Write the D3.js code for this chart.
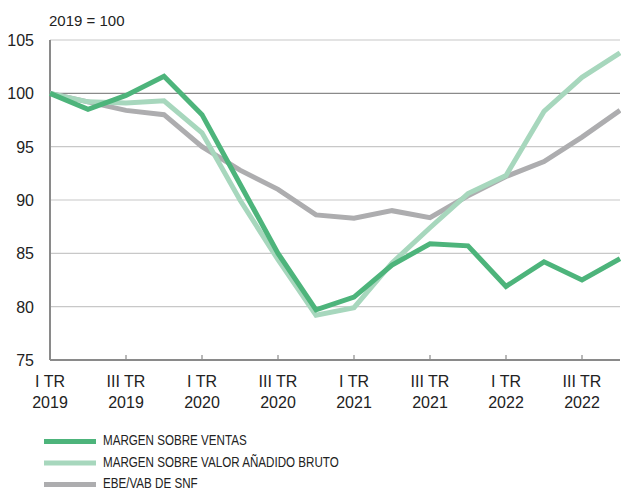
<!DOCTYPE html>
<html>
<head>
<meta charset="utf-8">
<script src="https://cdn.jsdelivr.net/npm/d3@7"></script>
<style>
  body { margin: 0; background: #fff; }
  svg { display: block; font-family: "Liberation Sans", Arial, sans-serif; }
</style>
</head>
<body>
<div id="chart"></div>
<script>
// quarters 2019 Q1 .. 2022 Q4
const quarters = d3.range(16);
const tickLabels = [
  ['I TR', '2019'], ['III TR', '2019'], ['I TR', '2020'], ['III TR', '2020'],
  ['I TR', '2021'], ['III TR', '2021'], ['I TR', '2022'], ['III TR', '2022']
];
const yTicks = [75, 80, 85, 90, 95, 100, 105];

const ventas = [100, 98.5, 99.8, 101.6, 98.0, 91.5, 85.0, 79.7, 80.9, 83.9, 85.9, 85.7, 81.9, 84.2, 82.5, 84.5];
const vab = [100, 99.2, 99.1, 99.3, 96.3, 90.0, 84.4, 79.2, 79.9, 84.1, 87.4, 90.6, 92.3, 98.3, 101.5, 103.8];
const ebe = [100, 99.2, 98.4, 98.0, 95.0, 92.8, 91.0, 88.6, 88.3, 89.0, 88.35, 90.4, 92.2, 93.6, 95.9, 98.4];

const series = [
  { name: 'MARGEN SOBRE VENTAS', values: ventas, color: '#4db47b' },
  { name: 'MARGEN SOBRE VALOR AÑADIDO BRUTO', values: vab, color: '#a7d7bd' },
  { name: 'EBE/VAB DE SNF', values: ebe, color: '#adadaf' }
];

const W = 621, H = 491;
const margin = { top: 40, right: 1, bottom: 131, left: 50 };

const svg = d3.select('#chart').append('svg')
  .attr('width', W).attr('height', H);

const x = d3.scaleLinear().domain([0, 15]).range([margin.left, W - margin.right]);
const y = d3.scaleLinear().domain([75, 105]).range([H - margin.bottom, margin.top]);

// title
svg.append('text')
  .attr('x', 49).attr('y', 26)
  .attr('font-size', 15).attr('fill', '#222')
  .text('2019 = 100');

// grid
svg.append('g').selectAll('line')
  .data(yTicks.filter(d => d > 75))
  .enter().append('line')
  .attr('x1', x(0)).attr('x2', x(15))
  .attr('y1', d => y(d)).attr('y2', d => y(d))
  .attr('stroke', d => d === 100 ? '#8a8a8a' : '#c8c8c8')
  .attr('stroke-width', 1.2);

// y labels
svg.append('g').selectAll('text')
  .data(yTicks)
  .enter().append('text')
  .attr('x', 34).attr('y', d => y(d) + 6)
  .attr('text-anchor', 'end')
  .attr('font-size', 16).attr('fill', '#222')
  .text(d => d);

// x ticks (every second quarter, skip first)
svg.append('g').selectAll('line')
  .data(d3.range(2, 16, 2))
  .enter().append('line')
  .attr('x1', d => x(d)).attr('x2', d => x(d))
  .attr('y1', y(75)).attr('y2', y(75) - 5)
  .attr('stroke', '#8a8a8a').attr('stroke-width', 1.2);

// axes
svg.append('line')
  .attr('x1', x(0)).attr('x2', x(15))
  .attr('y1', y(75)).attr('y2', y(75))
  .attr('stroke', '#8a8a8a').attr('stroke-width', 2);
svg.append('line')
  .attr('x1', x(0)).attr('x2', x(0))
  .attr('y1', y(105)).attr('y2', y(75))
  .attr('stroke', '#8a8a8a').attr('stroke-width', 2);

// x labels
const xl = svg.append('g').selectAll('text')
  .data(tickLabels)
  .enter().append('text')
  .attr('text-anchor', 'middle')
  .attr('font-size', 16).attr('fill', '#222');
xl.append('tspan').attr('x', (d, i) => x(i * 2)).attr('y', 387).text(d => d[0]);
xl.append('tspan').attr('x', (d, i) => x(i * 2)).attr('y', 408).text(d => d[1]);

// lines
const line = d3.line().x((d, i) => x(quarters[i])).y(d => y(d));
svg.append('g').selectAll('path')
  .data(series.slice().reverse())
  .enter().append('path')
  .attr('d', d => line(d.values))
  .attr('fill', 'none')
  .attr('stroke', d => d.color)
  .attr('stroke-width', 5)
  .attr('stroke-linejoin', 'miter');

// legend
const lg = svg.append('g').selectAll('g')
  .data(series)
  .enter().append('g')
  .attr('transform', (d, i) => `translate(44,${441.5 + i * 21.5})`);
lg.append('rect')
  .attr('x', 0).attr('y', -2.5).attr('width', 52).attr('height', 5)
  .attr('fill', d => d.color);
lg.append('text')
  .attr('transform', 'translate(59,3.5) scale(0.83,1)')
  .attr('font-size', 14).attr('fill', '#222')
  .text(d => d.name);
</script>
</body>
</html>
